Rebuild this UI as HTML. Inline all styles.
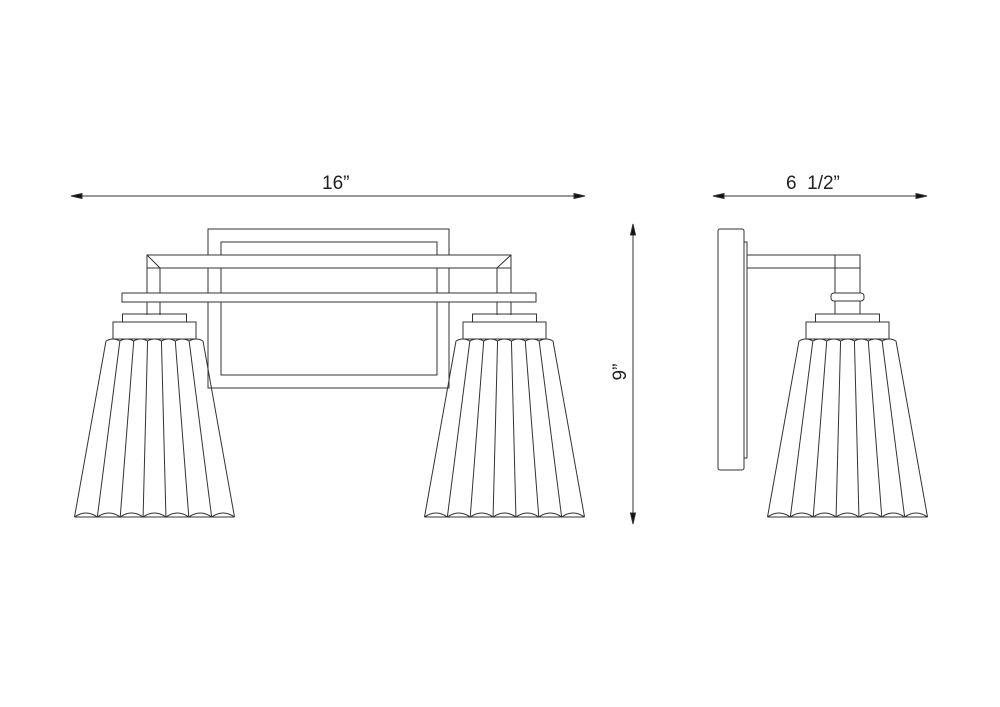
<!DOCTYPE html>
<html><head><meta charset="utf-8"><style>
html,body{margin:0;padding:0;background:#fff;}
svg{display:block}
text{font-family:"Liberation Sans",sans-serif;font-size:19px;fill:#222}
</style></head><body>
<svg id="s" width="1000" height="707" viewBox="0 0 1000 707" xmlns="http://www.w3.org/2000/svg">
<g fill="none" stroke="#333" stroke-width="1">
<!-- dimension lines -->
<line x1="72" y1="196" x2="584" y2="196"/>
<polygon points="71,196 82,193.5 82,198.5" fill="#111"/>
<polygon points="585,196 574,193.5 574,198.5" fill="#111"/>
<line x1="714" y1="196" x2="926" y2="196"/>
<polygon points="713,196 724,193.5 724,198.5" fill="#111"/>
<polygon points="927,196 916,193.5 916,198.5" fill="#111"/>
<line x1="633" y1="225" x2="633" y2="523"/>
<polygon points="633,224 630.5,235 635.5,235" fill="#111"/>
<polygon points="633,524 630.5,513 635.5,513" fill="#111"/>
<!-- back plate -->
<rect x="208" y="229" width="241" height="159"/>
<rect x="221" y="242" width="216" height="133"/>
<!-- arm -->
<rect x="147" y="255" width="364" height="13" fill="#fff"/>
<line x1="147" y1="255" x2="160" y2="268"/>
<line x1="511" y1="255" x2="497" y2="268"/>
<line x1="147" y1="255" x2="147" y2="315"/>
<line x1="160" y1="268" x2="160" y2="315"/>
<line x1="511" y1="255" x2="511" y2="315"/>
<line x1="497" y1="268" x2="497" y2="315"/>
<rect x="122" y="293" width="414" height="9" fill="#fff"/>
<!-- side view -->
<rect x="718" y="229" width="26" height="241" rx="2"/>
<rect x="744" y="242" width="3" height="216"/>
<rect x="747" y="255" width="113" height="13"/>
<rect x="835" y="255" width="25" height="59"/>
<rect x="831" y="293" width="33" height="8" rx="3" fill="#fff"/>
</g>
<g id="lamps" fill="none" stroke="#333" stroke-width="1"></g>
<text x="322" y="189">16”</text>
<text x="786" y="189" xml:space="preserve">6  1/2”</text>
<text transform="translate(626,372) rotate(-90)" text-anchor="middle">9”</text>
</svg>
<script>
function lamp(cx){
  var g=document.getElementById('lamps'),s='';
  s+='<rect x="'+(cx-32)+'" y="314" width="64" height="8"/>';
  s+='<rect x="'+(cx-41.5)+'" y="322" width="83" height="17"/>';
  var n=7,tl=cx-48.5,tr=cx+48.5,bl=cx-80,br=cx+80,ty=341,by=517;
  s+='<line x1="'+tl+'" y1="'+ty+'" x2="'+bl+'" y2="'+by+'"/>';
  s+='<line x1="'+tr+'" y1="'+ty+'" x2="'+br+'" y2="'+by+'"/>';
  var top='M'+tl+' '+ty, bot='M'+bl+' '+by;
  for(var i=0;i<n;i++){
    var a=tl+(tr-tl)*i/n,b=tl+(tr-tl)*(i+1)/n;
    top+=' Q'+((a+b)/2)+' '+(ty-4)+' '+b+' '+ty;
    var c=bl+(br-bl)*i/n,d=bl+(br-bl)*(i+1)/n;
    bot+=' Q'+((c+d)/2)+' '+(by-8)+' '+d+' '+by;
    if(i>0) s+='<line x1="'+a+'" y1="'+ty+'" x2="'+c+'" y2="'+by+'"/>';
  }
  s+='<path d="'+top+'"/><path d="'+bot+'"/>';
  s+='<line x1="'+bl+'" y1="'+by+'" x2="'+br+'" y2="'+by+'"/>';
  g.innerHTML+=s;
}
lamp(154.5);lamp(504.5);lamp(847.5);
</script>
</body></html>
